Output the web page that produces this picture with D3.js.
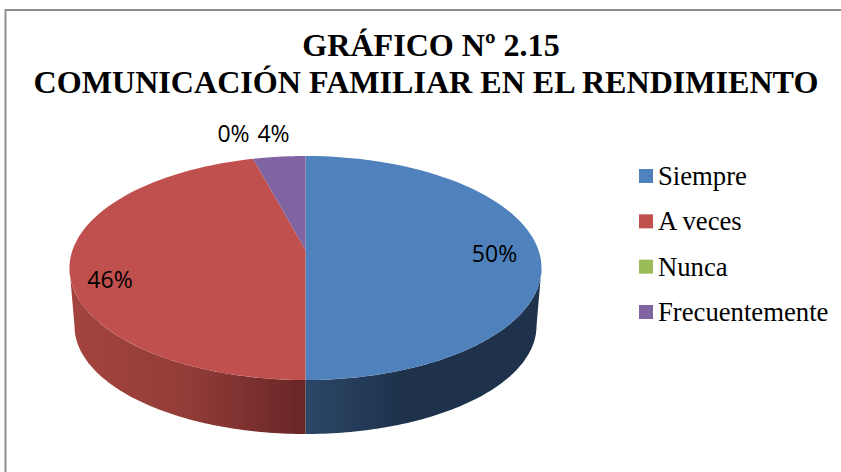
<!DOCTYPE html>
<html><head><meta charset="utf-8">
<script src="https://cdn.jsdelivr.net/npm/d3@7"></script>
<style>html,body{margin:0;padding:0;background:#fff;overflow:hidden}svg{display:block}</style>
</head><body><svg id="c" width="841" height="472"></svg>
<script>
const titleLines = ["GRÁFICO Nº 2.15", "COMUNICACIÓN FAMILIAR EN EL RENDIMIENTO"];
const categories = ["Siempre", "A veces", "Nunca", "Frecuentemente"];
const counts = [14, 13, 0, 1];
const colors = ["#4f81bd", "#c0504d", "#9bbb59", "#8064a2"];

const svg = d3.select("#c");
const total = d3.sum(counts);
const pct = d3.format(".0%");
const color = d3.scaleOrdinal(categories, colors);
const slices = d3.pie().sort(null).value(d => d)(counts);

const defs = svg.append("defs");
function grad(id, stops) {
  const g = defs.append("linearGradient").attr("id", id)
    .attr("gradientUnits", "userSpaceOnUse").attr("x1", 70).attr("x2", 542).attr("y1", 0).attr("y2", 0);
  stops.forEach(s => g.append("stop").attr("offset", s[0]).attr("stop-color", s[1]));
}
grad("redWall", [[0, "#a5443f"], [0.25, "#923c38"], [0.499, "#682626"], [0.5, "#682626"]]);
grad("blueWall", [[0.5, "#2b4767"], [0.7, "#1e324c"], [1, "#1e324c"]]);

svg.append("rect").attr("width", 841).attr("height", 472).attr("fill", "#fff");
svg.append("rect").attr("x", 5.5).attr("y", 10).attr("width", 900).attr("height", 600)
  .attr("fill", "none").attr("stroke", "#8e8e8e").attr("stroke-width", 2);

const top_ = {cx: 305.5, cy: 268, rx: 236, ry: 112};
const bot = {cx: 305.5, cy: 326, rx: 231, ry: 108};
const apex = [305.5, 250];
const pt = (e, a) => [e.cx + e.rx * Math.sin(a), e.cy - e.ry * Math.cos(a)];
const line = d3.line();
const arcPts = (e, a0, a1) => { const n = 80; return d3.range(n + 1).map(i => pt(e, a0 + (a1 - a0) * i / n)); };

// side wall (visible lower half only)
const walls = {0: "url(#blueWall)", 1: "url(#redWall)"};
slices.forEach((s, i) => {
  const a0 = Math.max(s.startAngle, Math.PI / 2), a1 = Math.min(s.endAngle, 3 * Math.PI / 2);
  if (a1 <= a0) return;
  const poly = arcPts(top_, a0, a1).concat(arcPts(bot, a1, a0));
  svg.append("path").attr("d", line(poly) + "Z").attr("fill", walls[i]);
});
// top faces
slices.forEach((s, i) => {
  if (s.endAngle === s.startAngle) return;
  svg.append("path").attr("d", line([apex].concat(arcPts(top_, s.startAngle, s.endAngle))) + "Z")
    .attr("fill", color(categories[i]));
});

// data labels
const labelPos = [[494.5, 262], [110, 288], [233.5, 142], [273.5, 142]];
counts.forEach((v, i) => {
  svg.append("text").attr("x", labelPos[i][0]).attr("y", labelPos[i][1])
    .attr("text-anchor", "middle").attr("font-family", "'Open Sans', sans-serif")
    .attr("font-size", 23).attr("fill", "#000").text(pct(v / total));
});

// title
const titleX = [431, 426];
const titleY = d3.scalePoint().domain(titleLines).range([56, 93]);
titleLines.forEach((t, i) => {
  svg.append("text").attr("x", titleX[i]).attr("y", titleY(t)).attr("text-anchor", "middle")
    .attr("font-family", "'Liberation Serif', serif").attr("font-weight", "bold")
    .attr("font-size", 32.1).attr("fill", "#000").text(t);
});

// legend
const legY = d3.scalePoint().domain(categories).range([176, 312]);
categories.forEach(c => {
  svg.append("rect").attr("x", 639).attr("y", legY(c) - 7).attr("width", 14).attr("height", 14).attr("fill", color(c));
  svg.append("text").attr("x", 658).attr("y", legY(c) + 9)
    .attr("font-family", "'Liberation Serif', serif").attr("font-size", 26.7).attr("fill", "#000").text(c);
});
</script></body></html>
